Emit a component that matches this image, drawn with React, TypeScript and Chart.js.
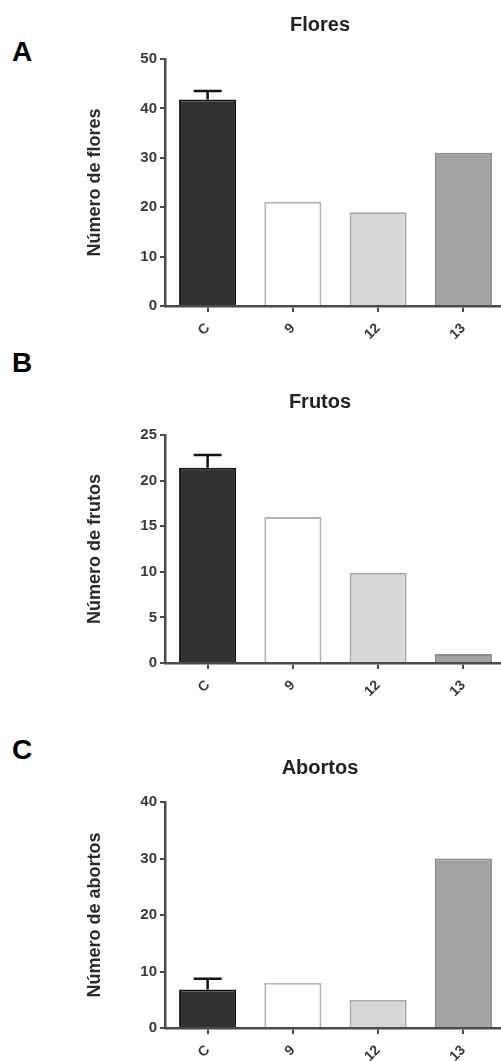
import React, { useEffect, useRef } from 'react';
import { Chart, registerables } from 'chart.js';

Chart.register(...registerables);

const categories = ['C', '9', '12', '13'];

const floresValues = [41.8, 21.1, 19.0, 31.0];
const floresErrors = [1.7, 0, 0, 0];

const frutosValues = [21.4, 16.0, 9.9, 1.0];
const frutosErrors = [1.4, 0, 0, 0];

const abortosValues = [6.8, 8.0, 5.0, 30.0];
const abortosErrors = [1.9, 0, 0, 0];

const barFill = ['#323232', '#ffffff', '#d7d7d7', '#a3a3a3'];
const barBorder = ['#141414', '#b3b3b3', '#a9a9a9', '#8b8b8b'];

const FONT = "'Liberation Sans', Arial, Helvetica, sans-serif";

const panels = [
  { letter: 'A', title: 'Flores', yTitle: 'Número de flores', values: floresValues, errors: floresErrors, yMax: 50, yStep: 10, top: 0, height: 346, padTop: 59, xHeight: 40, titleY: 25, letterTop: 38 },
  { letter: 'B', title: 'Frutos', yTitle: 'Número de frutos', values: frutosValues, errors: frutosErrors, yMax: 25, yStep: 5, top: 380, height: 323, padTop: 55, xHeight: 40, titleY: 22, letterTop: 349 },
  { letter: 'C', title: 'Abortos', yTitle: 'Número de abortos', values: abortosValues, errors: abortosErrors, yMax: 40, yStep: 10, top: 740, height: 321, padTop: 62, xHeight: 33, titleY: 28, letterTop: 736 },
];

const CANVAS_W = 520;

const titlePlugin = {
  id: 'panelTitle',
  afterDraw(chart: any, _args: any, opts: any) {
    const ctx = chart.ctx;
    ctx.save();
    ctx.font = `bold 20px ${FONT}`;
    ctx.fillStyle = '#222222';
    ctx.textAlign = 'center';
    ctx.textBaseline = 'middle';
    ctx.fillText(opts.text, opts.x, opts.y);
    ctx.restore();
  },
};

const errorPlugin = {
  id: 'errorBars',
  afterDatasetsDraw(chart: any, _args: any, opts: any) {
    const ctx = chart.ctx;
    const meta = chart.getDatasetMeta(0);
    const yScale = chart.scales.y;
    const data = chart.data.datasets[0].data;
    ctx.save();
    ctx.strokeStyle = '#111111';
    ctx.lineWidth = 2.5;
    (opts.errors || []).forEach((e: number, i: number) => {
      if (!e) return;
      const bar = meta.data[i];
      const yTop = yScale.getPixelForValue(data[i] + e);
      const yBase = yScale.getPixelForValue(data[i]);
      ctx.beginPath();
      ctx.moveTo(bar.x, yBase);
      ctx.lineTo(bar.x, yTop);
      ctx.moveTo(bar.x - 14, yTop);
      ctx.lineTo(bar.x + 14, yTop);
      ctx.stroke();
    });
    ctx.restore();
  },
};

function Panel({ p }: { p: any }) {
  const ref = useRef<HTMLCanvasElement | null>(null);
  useEffect(() => {
    if (!ref.current) return;
    const chart = new Chart(ref.current, {
      type: 'bar',
      data: {
        labels: categories,
        datasets: [
          {
            data: p.values,
            backgroundColor: barFill,
            borderColor: barBorder,
            borderWidth: 2,
            categoryPercentage: 1,
            barPercentage: 0.67,
          },
        ],
      },
      options: {
        animation: false,
        responsive: false,
        devicePixelRatio: 1,
        layout: { padding: { top: p.padTop, left: 80, right: 14, bottom: 0 } },
        plugins: {
          legend: { display: false },
          tooltip: { enabled: false },
          title: { display: false },
          panelTitle: { text: p.title, x: 320, y: p.titleY },
          errorBars: { errors: p.errors },
        } as any,
        scales: {
          x: {
            afterFit: (s: any) => { s.height = p.xHeight; },
            border: { display: true, color: '#4a4a4a', width: 2.5 },
            grid: { display: true, drawOnChartArea: false, drawTicks: true, offset: false, tickLength: 6, color: '#4a4a4a', lineWidth: 2 },
            ticks: {
              minRotation: 45,
              maxRotation: 45,
              padding: 8,
              color: '#3a3a3a',
              font: { family: FONT, size: 14, weight: 'bold' },
            },
          },
          y: {
            min: 0,
            max: p.yMax,
            afterFit: (s: any) => { s.width = 85; },
            border: { display: true, color: '#4a4a4a', width: 2.5 },
            grid: { display: true, drawOnChartArea: false, drawTicks: true, tickLength: 5, color: '#4a4a4a', lineWidth: 2 },
            ticks: {
              stepSize: p.yStep,
              padding: 3,
              color: '#3a3a3a',
              font: { family: FONT, size: 15, weight: 'bold' },
            },
            title: {
              display: true,
              text: p.yTitle,
              color: '#2a2a2a',
              padding: { top: 4, bottom: 0 },
              font: { family: FONT, size: 18, weight: 'bold' },
            },
          },
        },
      } as any,
      plugins: [titlePlugin, errorPlugin],
    });
    return () => chart.destroy();
  }, []);
  return (
    <>
      <div
        style={{
          position: 'absolute',
          left: 12,
          top: p.letterTop,
          font: `bold 28px ${FONT}`,
          lineHeight: '28px',
          color: '#000',
        }}
      >
        {p.letter}
      </div>
      <canvas
        ref={ref}
        width={CANVAS_W}
        height={p.height}
        style={{ position: 'absolute', left: 0, top: p.top, width: CANVAS_W, height: p.height }}
      />
    </>
  );
}

export default function App() {
  return (
    <div
      style={{
        position: 'fixed',
        left: 0,
        top: 0,
        width: 501,
        height: 1061,
        overflow: 'hidden',
        background: '#ffffff',
      }}
    >
      {panels.map((p) => (
        <Panel key={p.letter} p={p} />
      ))}
    </div>
  );
}
